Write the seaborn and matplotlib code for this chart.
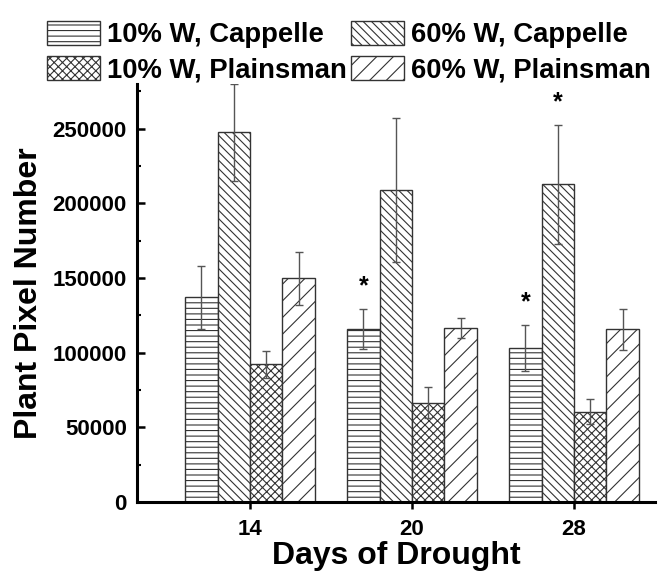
import matplotlib
matplotlib.use("Agg")
import matplotlib.pyplot as plt
import seaborn as sns
import pandas as pd
from matplotlib.ticker import MultipleLocator

days = ["14", "20", "28"]
series = ["10% W, Cappelle", "60% W, Cappelle", "10% W, Plainsman", "60% W, Plainsman"]
cap10 = [137000, 116000, 103400]
cap60 = [247500, 209000, 212800]
pla10 = [92200, 66600, 60400]
pla60 = [149900, 116500, 115800]
cap10_err = [20800, 13400, 15400]
cap60_err = [32400, 48400, 39700]
pla10_err = [9200, 10300, 8300]
pla60_err = [17700, 6700, 13700]
# significance marks: (series index, day index)
stars = [(0, 1), (0, 2), (1, 2)]

values = [cap10, cap60, pla10, pla60]
errors = [cap10_err, cap60_err, pla10_err, pla60_err]
hatches = ["---", "\\\\\\\\", "xxxx", "//"]

rows = []
for s, vals in zip(series, values):
    for d, v in zip(days, vals):
        rows.append({"day": d, "treatment": s, "value": v})
df = pd.DataFrame(rows)

sns.set_style("ticks")
plt.rcParams["font.family"] = ["Liberation Sans", "DejaVu Sans"]
plt.rcParams["font.weight"] = "bold"
plt.rcParams["hatch.linewidth"] = 0.8
plt.rcParams["hatch.color"] = "#222222"
for key in ["text.color", "axes.labelcolor", "xtick.color", "ytick.color"]:
    plt.rcParams[key] = "black"

fig = plt.figure(figsize=(6.59, 5.71), dpi=100)
ax = fig.add_axes([0.2074, 0.1208, 0.7866, 0.7322])

sns.barplot(data=df, x="day", y="value", hue="treatment", order=days,
            hue_order=series, palette=["white"] * 4, edgecolor="#333333",
            linewidth=1.0, errorbar=None, legend=False, ax=ax, width=0.8,
            saturation=1)

bar_conts = list(ax.containers)
for i, cont in enumerate(bar_conts):
    xs = []
    for p in cont.patches:
        p.set_hatch(hatches[i])
        p.set_edgecolor("#333333")
        p.set_facecolor("white")
        xs.append(p.get_x() + p.get_width() / 2)
    ax.errorbar(xs, values[i], yerr=errors[i], fmt="none", ecolor="#555555",
                elinewidth=1.0, capsize=3, capthick=1.0, zorder=5)

for si, di in stars:
    p = bar_conts[si].patches[di]
    x = p.get_x() + p.get_width() / 2
    y = values[si][di] + errors[si][di]
    ax.annotate("*", xy=(x, y), xytext=(0, 16), textcoords="offset points",
                ha="center", va="center", fontsize=18, fontweight="bold",
                color="black")

ax.set_xlim(-0.7, 2.5)
ax.set_ylim(0, 280000)
ax.yaxis.set_major_locator(MultipleLocator(50000))
ax.yaxis.set_minor_locator(MultipleLocator(25000))

for side in ["top", "right"]:
    ax.spines[side].set_visible(False)
for side in ["left", "bottom"]:
    ax.spines[side].set_linewidth(2.2)
    ax.spines[side].set_color("black")

ax.tick_params(axis="y", which="major", direction="in", length=5.5, width=1.8,
               labelsize=16, pad=7, colors="black")
ax.tick_params(axis="y", which="minor", direction="in", length=2.7, width=1.5,
               colors="black")
ax.tick_params(axis="x", which="major", direction="out", length=5, width=1.8,
               labelsize=16, pad=7, colors="black")
for lbl in ax.get_xticklabels() + ax.get_yticklabels():
    lbl.set_fontweight("bold")

ax.set_xlabel("Days of Drought", fontsize=23, fontweight="bold", labelpad=1,
              color="black")
ax.set_ylabel("Plant Pixel Number", fontsize=23, fontweight="bold", labelpad=6,
              color="black")

# legend fills column-wise: order so rows read (10% C, 60% C), (10% P, 60% P)
order = [0, 2, 1, 3]
handles = [bar_conts[k].patches[0] for k in order]
labels = [series[k] for k in order]
leg = fig.legend(handles, labels, loc="upper left", bbox_to_anchor=(0.0718, 0.9635),
                 ncol=2, frameon=False, handlelength=1.93,
                 handleheight=0.95, handletextpad=0.25, columnspacing=0.15,
                 labelspacing=0.30, borderaxespad=0, borderpad=0,
                 prop={"weight": "bold", "size": 19.8})
for t in leg.get_texts():
    t.set_color("black")

fig.savefig("out.png", dpi=100)
